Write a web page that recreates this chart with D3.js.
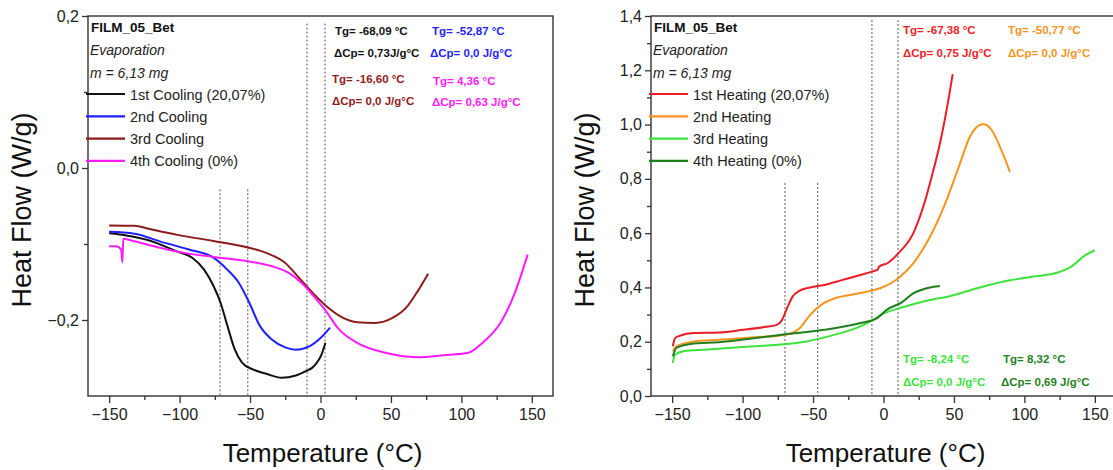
<!DOCTYPE html>
<html>
<head>
<meta charset="utf-8">
<title>DSC</title>
<script src="https://cdn.jsdelivr.net/npm/d3@7"></script>
<style>
  body { margin: 0; background: #fff; font-family: "Liberation Sans", Arial, sans-serif; }
  svg text { font-family: "Liberation Sans", Arial, sans-serif; }
</style>
</head>
<body>
<div id="chart"></div>
<script>
var width = 1113;
var height = 470;

// ----- Data (temperature in °C, heat flow in W/g) -----

var coolNames = ['1st Cooling (20,07%)', '2nd Cooling', '3rd Cooling', '4th Cooling (0%)'];
var coolColors = ['#111111', '#1f1fff', '#8e1b1b', '#ff1aff'];

var cool1 = [[-150,-0.086],[-137,-0.089],[-122,-0.095],[-101.6,-0.110],[-91,-0.118],[-82.5,-0.134],
  [-76,-0.155],[-71,-0.177],[-66,-0.208],[-61,-0.238],[-55.7,-0.256],[-48,-0.265],[-38,-0.271],
  [-27.6,-0.276],[-17.5,-0.273],[-10,-0.267],[-6,-0.263],[-3.4,-0.258],[0.4,-0.247],[3.5,-0.230]];
var cool2 = [[-150,-0.084],[-132,-0.0865],[-114,-0.0965],[-94,-0.107],[-76,-0.118],[-66,-0.134],
  [-58,-0.151],[-50.6,-0.177],[-43,-0.208],[-35,-0.225],[-25,-0.236],[-17.5,-0.239],[-7.3,-0.234],
  [0.4,-0.223],[6.8,-0.210]];
var cool3 = [[-150,-0.0756],[-132,-0.076],[-122,-0.080],[-101.6,-0.088],[-76,-0.096],[-53,-0.104],
  [-38,-0.112],[-25,-0.125],[-15,-0.145],[-4.7,-0.166],[5.5,-0.184],[15.7,-0.197],[26,-0.203],
  [38.6,-0.204],[51.4,-0.197],[61.6,-0.182],[69,-0.162],[76.4,-0.139]];
var cool4 = [[-150,-0.103],[-145,-0.103],[-141.5,-0.107],[-140.6,-0.124],[-140,-0.093],[-132,-0.0965],
  [-114,-0.105],[-96,-0.112],[-76,-0.117],[-50.6,-0.123],[-35,-0.129],[-22.5,-0.138],[-12.4,-0.153],
  [-4.7,-0.169],[3,-0.186],[13,-0.212],[26,-0.230],[46,-0.243],[71.8,-0.249],[89.6,-0.246],
  [105,-0.243],[115,-0.230],[128,-0.203],[138,-0.164],[147,-0.114]];

var heatNames = ['1st Heating (20,07%)', '2nd Heating', '3rd Heating', '4th Heating (0%)'];
var heatColors = ['#ee1c25', '#f7941e', '#3be33b', '#1f7f1f'];

var heat1 = [[-149.5,0.183],[-148,0.213],[-144.5,0.222],[-134.5,0.232],[-117,0.234],[-99.5,0.244],
  [-84.5,0.254],[-75.7,0.262],[-72,0.280],[-68,0.329],[-64.5,0.366],[-59.5,0.388],[-52,0.400],
  [-42,0.409],[-29.5,0.427],[-17,0.445],[-7,0.460],[-4,0.466],[-3.3,0.476],[3,0.490],[10.6,0.526],
  [21.1,0.599],[28.2,0.697],[34.2,0.808],[40.1,0.931],[44.8,1.054],[49.1,1.186]];
var heat2 = [[-149.5,0.165],[-147,0.183],[-134.5,0.201],[-117,0.207],[-92,0.216],[-69.5,0.226],
  [-59.5,0.250],[-52,0.299],[-44.5,0.335],[-34.5,0.360],[-22,0.374],[-9.5,0.387],[-2.5,0.397],
  [10.5,0.434],[21.1,0.489],[33,0.587],[44.8,0.722],[54.3,0.857],[61.3,0.955],[66,0.990],
  [70.8,1.002],[76.7,0.980],[82.6,0.919],[89.7,0.826]];
var heat3 = [[-149.5,0.122],[-148,0.152],[-142,0.165],[-124.5,0.171],[-104.5,0.179],[-79.5,0.187],
  [-54.5,0.201],[-34.5,0.226],[-19.5,0.250],[-9.5,0.274],[0.5,0.305],[11.7,0.324],[33,0.354],
  [45.5,0.366],[68.4,0.400],[90.5,0.427],[108,0.441],[123,0.454],[133,0.476],[143,0.518],[150,0.537]];
var heat4 = [[-149.5,0.146],[-147,0.177],[-134.5,0.193],[-117,0.198],[-92,0.213],[-67,0.229],
  [-42,0.244],[-17,0.268],[-4.5,0.287],[2.3,0.318],[13,0.345],[21.1,0.378],[33,0.400],[40,0.405]];

// dotted Tg guide lines: temperature and the value where the line starts
var coolGuides = [[-71.3,-0.028],[-51.6,-0.028],[-9.6,0.19],[3.2,0.19]];
var heatGuides = [[-69.9,0.785],[-46.7,0.785],[-8.2,1.385],[10.3,1.385]];

var xTicks = [-150,-100,-50,0,50,100,150];
var xMinor = [-125,-75,-25,25,75,125];
var coolYTicks = [-0.2, 0, 0.2];
var coolYMinor = [-0.1, 0.1];
var heatYTicks = [0, 0.2, 0.4, 0.6, 0.8, 1.0, 1.2, 1.4];
var heatYMinor = [0.1, 0.3, 0.5, 0.7, 0.9, 1.1, 1.3];

var coolNotes = [
  ['Tg= -68,09 °C', 0], ['ΔCp= 0,73J/g°C', 0],
  ['Tg= -52,87 °C', 1], ['ΔCp= 0,0 J/g°C', 1],
  ['Tg= -16,60 °C', 2], ['ΔCp= 0,0 J/g°C', 2],
  ['Tg= 4,36 °C', 3], ['ΔCp= 0,63 J/g°C', 3]
];
var heatNotes = [
  ['Tg= -67,38 °C', 0], ['ΔCp= 0,75 J/g°C', 0],
  ['Tg= -50,77 °C', 1], ['ΔCp= 0,0 J/g°C', 1],
  ['Tg= -8,24 °C', 2], ['ΔCp= 0,0 J/g°C', 2],
  ['Tg= 8,32 °C', 3], ['ΔCp= 0,69 J/g°C', 3]
];

// ----- Helpers -----

var fmt = function(d) { return d3.format('.1f')(d).replace('.', ','); };

function drawPanel(svg, opt) {
  var x = d3.scaleLinear().domain([-165, 165]).range([opt.left, opt.left + 465]);
  var y = d3.scaleLinear().domain(opt.yDomain).range([396, 16]);
  var g = svg.append('g');

  // frame
  g.append('rect')
    .attr('x', x.range()[0]).attr('y', 16)
    .attr('width', 465).attr('height', 380)
    .attr('fill', 'none').attr('stroke', '#333').attr('stroke-width', 1.4);

  // axes
  var xa = g.append('g').attr('transform', 'translate(0,396)')
    .call(d3.axisBottom(x).tickValues(xTicks).tickSize(7).tickPadding(6).tickFormat(d3.format('d')));
  g.append('g').attr('transform', 'translate(0,396)')
    .call(d3.axisBottom(x).tickValues(xMinor).tickSize(4).tickFormat(''));
  var ya = g.append('g').attr('transform', 'translate(' + x.range()[0] + ',0)')
    .call(d3.axisLeft(y).tickValues(opt.yTicks).tickSize(6).tickPadding(3).tickFormat(fmt));
  g.append('g').attr('transform', 'translate(' + x.range()[0] + ',0)')
    .call(d3.axisLeft(y).tickValues(opt.yMinor).tickSize(4).tickFormat(''));
  g.selectAll('.domain').remove();
  g.selectAll('.tick line').attr('stroke', '#333').attr('stroke-width', 1.3);
  xa.selectAll('text').attr('font-size', 16).attr('fill', '#222');
  ya.selectAll('text').attr('font-size', 16).attr('fill', '#222');

  // axis titles
  g.append('text')
    .attr('x', (x.range()[0] + x.range()[1]) / 2 + 2).attr('y', 462)
    .attr('text-anchor', 'middle').attr('font-size', 26).attr('fill', '#111')
    .text('Temperature (°C)');
  g.append('text')
    .attr('transform', 'translate(' + (x.range()[0] - 57) + ',210) rotate(-90)')
    .attr('text-anchor', 'middle').attr('font-size', 27).attr('fill', '#111')
    .text('Heat Flow (W/g)');

  // dotted guides
  g.selectAll('line.guide').data(opt.guides).join('line')
    .attr('class', 'guide')
    .attr('x1', d => x(d[0])).attr('x2', d => x(d[0]))
    .attr('y1', d => y(d[1])).attr('y2', 396)
    .attr('stroke', '#555').attr('stroke-width', 1).attr('stroke-dasharray', '2,2');

  // curves
  var line = d3.line().x(d => x(d[0])).y(d => y(d[1])).curve(d3.curveMonotoneX);
  g.selectAll('path.curve').data(opt.series).join('path')
    .attr('class', 'curve')
    .attr('d', line)
    .attr('fill', 'none')
    .attr('stroke', (d, i) => opt.colors[i])
    .attr('stroke-width', 2);

  // header + legend
  var lx = x.range()[0];
  g.append('text').attr('x', lx + 3).attr('y', 32)
    .attr('font-size', 13.5).attr('font-weight', 'bold').attr('fill', '#111').text('FILM_05_Bet');
  g.append('text').attr('x', lx + 2).attr('y', 55)
    .attr('font-size', 14).attr('font-style', 'italic').attr('fill', '#222').text('Evaporation');
  g.append('text').attr('x', lx + 2).attr('y', 78)
    .attr('font-size', 14).attr('font-style', 'italic').attr('fill', '#222').text('m = 6,13 mg');
  var leg = g.selectAll('g.leg').data(opt.names).join('g')
    .attr('class', 'leg')
    .attr('transform', (d, i) => 'translate(' + lx + ',' + (94 + i * 22.3) + ')');
  leg.append('line').attr('x1', -2).attr('x2', 37)
    .attr('stroke', (d, i) => opt.colors[i]).attr('stroke-width', 2.2);
  leg.append('text').attr('x', 42).attr('y', 5.5)
    .attr('font-size', 14.5).attr('fill', '#222').text(d => d);

  // Tg notes
  g.selectAll('text.note').data(opt.notes).join('text')
    .attr('class', 'note')
    .attr('x', (d, i) => opt.notePos[i][0]).attr('y', (d, i) => opt.notePos[i][1])
    .attr('font-size', 11.5).attr('font-weight', 'bold')
    .attr('fill', d => opt.colors[d[1]])
    .text(d => d[0]);
}

// ----- Main -----

var svg = d3.select('#chart').append('svg')
  .attr('width', width).attr('height', height);

drawPanel(svg, {
  left: 88,
  yDomain: [-0.3, 0.2],
  yTicks: coolYTicks, yMinor: coolYMinor,
  series: [cool1, cool2, cool3, cool4],
  colors: coolColors, names: coolNames,
  guides: coolGuides,
  notes: coolNotes,
  notePos: [[335,35],[334,57],[432,35],[430,57],[332,83],[332,105],[433,85],[432,106]]
});

drawPanel(svg, {
  left: 651,
  yDomain: [0, 1.4],
  yTicks: heatYTicks, yMinor: heatYMinor,
  series: [heat1, heat2, heat3, heat4],
  colors: heatColors, names: heatNames,
  guides: heatGuides,
  notes: heatNotes,
  notePos: [[903,34],[903,57],[1008,34],[1008,57],[903,363],[903,386],[1003,363],[1001,386]]
});
</script>
</body>
</html>
